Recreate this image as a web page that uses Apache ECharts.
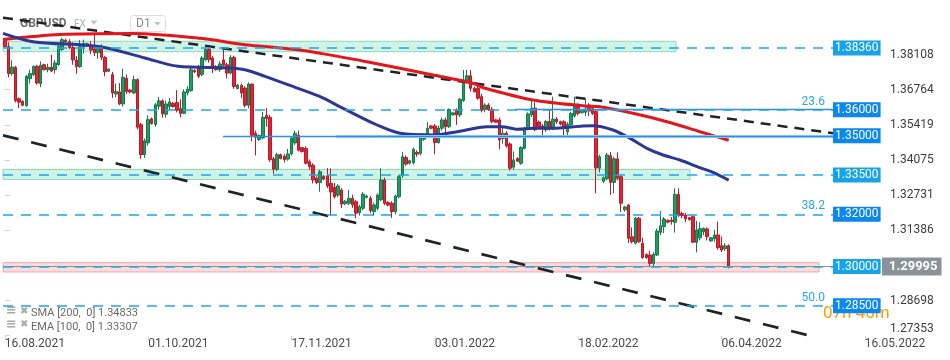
<!DOCTYPE html>
<html><head><meta charset="utf-8">
<script src="https://cdn.jsdelivr.net/npm/echarts@6/dist/echarts.min.js"></script>
<style>html,body{margin:0;padding:0;background:#fff}#c{width:950px;height:360px}</style>
</head><body><div id="c"></div>
<script>
// ---------- DATA ----------
const opens = [
1.3866,1.3842,1.3738,1.3762,1.3642,1.3632,1.3615,1.3719,1.3734,1.3766,
1.3700,1.3772,1.3753,1.3762,1.3753,1.3772,1.3830,1.3866,1.3860,1.3838,
1.3790,1.3765,1.3841,1.3852,1.3845,1.3840,1.3818,1.3836,1.3800,1.3747,
1.3734,1.3660,1.3668,1.3622,1.3720,1.3675,1.3664,1.3715,1.3543,1.3428,
1.3473,1.3565,1.3543,1.3613,1.3634,1.3583,1.3612,1.3625,1.3628,1.3604,
1.3586,1.3664,1.3673,1.3750,1.3762,1.3734,1.3791,1.3830,1.3798,1.3766,
1.3753,1.3790,1.3772,1.3740,1.3800,1.3681,1.3693,1.3683,1.3617,1.3698,
1.3510,1.3485,1.3492,1.3578,1.3571,1.3412,1.3372,1.3428,1.3422,1.3411,
1.3431,1.3473,1.3502,1.3455,1.3452,1.3401,1.3388,1.3338,1.3321,1.3345,
1.3347,1.3318,1.3303,1.3273,1.3293,1.3240,1.3242,1.3261,1.3248,1.3206,
1.3223,1.3265,1.3261,1.3210,1.3223,1.3255,1.3331,1.3245,1.3242,1.3210,
1.3267,1.3347,1.3417,1.3395,1.3397,1.3437,1.3433,1.3487,1.3500,1.3538,
1.3538,1.3474,1.3529,1.3561,1.3535,1.3580,1.3597,1.3580,1.3635,1.3712,
1.3730,1.3682,1.3682,1.3650,1.3600,1.3618,1.3602,1.3561,1.3561,1.3490,
1.3510,1.3469,1.3380,1.3413,1.3395,1.3452,1.3529,1.3580,1.3606,1.3553,
1.3538,1.3523,1.3555,1.3529,1.3564,1.3554,1.3554,1.3515,1.3542,1.3576,
1.3618,1.3589,1.3590,1.3618,1.3605,1.3594,1.3376,1.3326,1.3337,1.3424,
1.3322,1.3412,1.3344,1.3217,1.3235,1.3114,1.3089,1.3185,1.3089,1.3046,
1.3044,1.3012,1.3044,1.3131,1.3153,1.3176,1.3178,1.3169,1.3276,1.3203,
1.3197,1.3187,1.3191,1.3093,1.3110,1.3133,1.3144,1.3098,1.3106,1.3121,
1.3080,1.3068,1.3080];
const highs = [
1.3872,1.3858,1.3789,1.3768,1.3647,1.3636,1.3733,1.3753,1.3770,1.3772,
1.3785,1.3776,1.3776,1.3811,1.3791,1.3848,1.3874,1.3872,1.3870,1.3858,
1.3805,1.3867,1.3868,1.3856,1.3862,1.3892,1.3845,1.3850,1.3806,1.3758,
1.3745,1.3700,1.3702,1.3757,1.3735,1.3680,1.3730,1.3720,1.3550,1.3490,
1.3579,1.3570,1.3625,1.3649,1.3640,1.3635,1.3645,1.3630,1.3675,1.3640,
1.3678,1.3690,1.3760,1.3755,1.3771,1.3805,1.3836,1.3838,1.3806,1.3770,
1.3785,1.3830,1.3780,1.3809,1.3806,1.3698,1.3700,1.3690,1.3705,1.3700,
1.3520,1.3505,1.3591,1.3607,1.3580,1.3420,1.3435,1.3432,1.3430,1.3450,
1.3497,1.3520,1.3520,1.3458,1.3460,1.3410,1.3395,1.3345,1.3370,1.3350,
1.3377,1.3376,1.3320,1.3315,1.3300,1.3255,1.3293,1.3275,1.3255,1.3235,
1.3285,1.3275,1.3270,1.3245,1.3280,1.3376,1.3340,1.3250,1.3250,1.3275,
1.3350,1.3439,1.3425,1.3408,1.3455,1.3445,1.3500,1.3510,1.3553,1.3542,
1.3545,1.3540,1.3570,1.3570,1.3605,1.3592,1.3605,1.3645,1.3752,1.3752,
1.3752,1.3688,1.3690,1.3660,1.3625,1.3625,1.3610,1.3565,1.3570,1.3537,
1.3518,1.3475,1.3440,1.3418,1.3460,1.3535,1.3590,1.3634,1.3628,1.3558,
1.3545,1.3560,1.3599,1.3650,1.3572,1.3558,1.3560,1.3552,1.3592,1.3650,
1.3625,1.3600,1.3642,1.3625,1.3612,1.3600,1.3428,1.3345,1.3435,1.3438,
1.3420,1.3437,1.3350,1.3232,1.3240,1.3150,1.3190,1.3190,1.3110,1.3050,
1.3060,1.3055,1.3145,1.3212,1.3190,1.3180,1.3190,1.3299,1.3299,1.3210,
1.3205,1.3190,1.3195,1.3175,1.3170,1.3150,1.3150,1.3112,1.3140,1.3172,
1.3115,1.3090,1.3085];
const lows = [
1.3836,1.3724,1.3731,1.3628,1.3607,1.3613,1.3612,1.3700,1.3728,1.3696,
1.3686,1.3750,1.3743,1.3744,1.3738,1.3768,1.3825,1.3856,1.3832,1.3772,
1.3737,1.3760,1.3815,1.3840,1.3812,1.3805,1.3795,1.3790,1.3728,1.3744,
1.3645,1.3648,1.3617,1.3612,1.3660,1.3662,1.3660,1.3525,1.3412,1.3415,
1.3462,1.3543,1.3535,1.3600,1.3570,1.3570,1.3600,1.3608,1.3590,1.3570,
1.3583,1.3655,1.3668,1.3740,1.3721,1.3728,1.3785,1.3780,1.3740,1.3750,
1.3745,1.3765,1.3720,1.3735,1.3680,1.3678,1.3645,1.3608,1.3605,1.3479,
1.3425,1.3482,1.3488,1.3535,1.3400,1.3355,1.3365,1.3410,1.3398,1.3405,
1.3425,1.3465,1.3440,1.3436,1.3390,1.3370,1.3318,1.3315,1.3286,1.3330,
1.3300,1.3196,1.3260,1.3265,1.3224,1.3235,1.3235,1.3225,1.3185,1.3195,
1.3215,1.3260,1.3205,1.3195,1.3215,1.3250,1.3235,1.3230,1.3186,1.3200,
1.3260,1.3340,1.3385,1.3390,1.3390,1.3420,1.3425,1.3480,1.3495,1.3525,
1.3430,1.3470,1.3520,1.3507,1.3530,1.3578,1.3542,1.3572,1.3630,1.3700,
1.3670,1.3665,1.3638,1.3590,1.3590,1.3595,1.3548,1.3550,1.3449,1.3470,
1.3455,1.3367,1.3370,1.3400,1.3389,1.3448,1.3522,1.3572,1.3518,1.3530,
1.3497,1.3515,1.3520,1.3522,1.3545,1.3540,1.3500,1.3497,1.3535,1.3570,
1.3578,1.3585,1.3575,1.3575,1.3580,1.3280,1.3360,1.3320,1.3330,1.3274,
1.3280,1.3330,1.3209,1.3210,1.3090,1.3088,1.3085,1.3090,1.3030,1.3030,
1.2998,1.3000,1.3040,1.3120,1.3128,1.3165,1.3160,1.3130,1.3190,1.3185,
1.3170,1.3175,1.3090,1.3054,1.3100,1.3120,1.3100,1.3095,1.3095,1.3065,
1.3055,1.3060,1.2993];
const closes = [
1.3842,1.3738,1.3763,1.3635,1.3629,1.3617,1.3728,1.3738,1.3766,1.3702,
1.3770,1.3753,1.3762,1.3748,1.3779,1.3843,1.3868,1.3860,1.3838,1.3790,
1.3765,1.3841,1.3852,1.3845,1.3828,1.3818,1.3836,1.3800,1.3745,1.3756,
1.3664,1.3670,1.3622,1.3724,1.3670,1.3668,1.3715,1.3533,1.3428,1.3481,
1.3562,1.3547,1.3619,1.3634,1.3584,1.3622,1.3630,1.3612,1.3598,1.3586,
1.3668,1.3679,1.3753,1.3745,1.3728,1.3798,1.3830,1.3791,1.3762,1.3753,
1.3775,1.3770,1.3740,1.3800,1.3689,1.3694,1.3664,1.3617,1.3698,1.3502,
1.3495,1.3502,1.3571,1.3566,1.3409,1.3372,1.3428,1.3413,1.3409,1.3431,
1.3492,1.3510,1.3445,1.3440,1.3395,1.3382,1.3331,1.3321,1.3363,1.3335,
1.3308,1.3285,1.3267,1.3308,1.3239,1.3250,1.3261,1.3236,1.3204,1.3229,
1.3277,1.3270,1.3214,1.3236,1.3274,1.3331,1.3242,1.3235,1.3210,1.3270,
1.3344,1.3420,1.3392,1.3405,1.3449,1.3430,1.3493,1.3500,1.3529,1.3529,
1.3474,1.3530,1.3561,1.3535,1.3601,1.3588,1.3580,1.3640,1.3714,1.3730,
1.3682,1.3669,1.3644,1.3597,1.3618,1.3600,1.3555,1.3552,1.3484,1.3510,
1.3461,1.3376,1.3408,1.3403,1.3456,1.3529,1.3584,1.3606,1.3523,1.3535,
1.3529,1.3555,1.3529,1.3564,1.3554,1.3545,1.3530,1.3545,1.3586,1.3618,
1.3586,1.3597,1.3602,1.3595,1.3585,1.3377,1.3420,1.3340,1.3427,1.3322,
1.3412,1.3338,1.3242,1.3228,1.3108,1.3095,1.3185,1.3095,1.3034,1.3034,
1.3012,1.3047,1.3136,1.3156,1.3182,1.3170,1.3172,1.3276,1.3195,1.3195,
1.3182,1.3180,1.3093,1.3140,1.3145,1.3146,1.3114,1.3110,1.3121,1.3072,
1.3063,1.3079,1.29995];

// moving averages (vertices: bar position, value)
const smaBars   = [-0.5,15.4,35.8,54.5,67.0,73.2,82.4,88.0,101.0,119.5,130.6,134.0,147.4,161.9,166.1,175.3,184.8,194.0,202];
const smaValues = [1.38686,1.38877,1.38915,1.38732,1.38487,1.38410,1.38284,1.38158,1.37837,1.37328,1.37010,1.36819,1.36371,1.36142,1.36115,1.35863,1.35541,1.35159,1.34833];
const emaBars   = [-0.5,7.9,26.6,39.1,48.3,62.3,67.0,72.6,81.0,88.0,94.4,103.9,110.3,119.5,126.2,134.6,138.7,143.2,147.4,152.7,161.3,164.1,169.7,174.5,179.2,183.7,188.4,193.2,197.6,202];
const emaValues = [1.38923,1.38602,1.38410,1.37978,1.37661,1.37596,1.37531,1.37278,1.36857,1.36498,1.36054,1.35415,1.35098,1.35033,1.35159,1.35350,1.35350,1.35251,1.35289,1.35289,1.35377,1.35388,1.35224,1.34906,1.34524,1.34267,1.34076,1.33820,1.33606,1.33307];

// trend lines [bar, price]
const upperTrend = [[-0.5,1.3952],[231.1,1.3510]];
const lowerTrend = [[-0.5,1.3502],[224.7,1.27355]];

// horizontal levels
const levelValues = [1.3836,1.36,1.35,1.335,1.32,1.30,1.285];
const fibValues = [1.36,1.32,1.285];
const fibTexts = ['23.6','38.2','50.0'];
const lastPrice = 1.29995;

// zones
const zoneTop = [1.38617,1.33713,1.30147];
const zoneBottom = [1.38219,1.33330,1.29792];
const zoneEndBar = [187.3,191.2,227.2];

// axis tick labels
const xTickLabels = ['16.08.2021','01.10.2021','17.11.2021','03.01.2022','18.02.2022','06.04.2022','16.05.2022'];
const yTickLabels = [1.38108,1.36764,1.35419,1.34075,1.32731,1.31386,1.28698,1.27353];

// ---------- CATEGORIES (trading days incl. Sunday sessions, then calendar days) ----------
const SLOTS = 245;
function fmt(d){const p=n=>String(n).padStart(2,'0');return p(d.getUTCDate())+'.'+p(d.getUTCMonth()+1)+'.'+d.getUTCFullYear();}
const categories = [];
let t = Date.UTC(2021,7,16);
while (categories.length < opens.length) { const d = new Date(t); if (d.getUTCDay() !== 6) categories.push(fmt(d)); t += 864e5; }
while (categories.length < SLOTS) { categories.push(fmt(new Date(t))); t += 864e5; }

// ---------- BUILD ----------
const FONT = 'Roboto';
const LEVEL_END = 231.1;
const LIGHT = '#17a3e8', DARK = '#0b87ee';
const lightLevels = [1.3836,1.335,1.30];

const levelLines = [];
levelLines.push({yAxis:lastPrice, lineStyle:{color:'#8d8d8d',width:1,type:'solid'},
  label:{show:true,position:'end',distance:1,formatter:lastPrice.toFixed(5),backgroundColor:'#8a9399',color:'#fff',
  fontWeight:'bold',fontSize:13,fontFamily:FONT,padding:[3,4,2,7]}});
levelLines.push([{coord:[92.3,1.35],lineStyle:{color:'#a3d3f7',width:3,type:'solid'},label:{show:false}},{coord:[LEVEL_END,1.35]}]);
levelLines.push([{coord:[142.4,1.36],lineStyle:{color:'#2d8ee6',width:1.3,type:'solid'},label:{show:false}},{coord:[LEVEL_END,1.36]}]);
levelValues.forEach(v=>{
  const solid = v===1.35;
  levelLines.push([{coord:[solid?60.9:-0.5, v],
    lineStyle: solid?{color:'#2d8ee6',width:1.3,type:'solid'}:{color:'#1ea6ec',width:1.5,type:[10,8]},
    label:{show:true,position:'end',distance:0,formatter:v.toFixed(5),backgroundColor:lightLevels.includes(v)?LIGHT:DARK,
      color:'#fff',fontSize:12,fontFamily:FONT,padding:[2,2,1,2]}},
    {coord:[LEVEL_END,v]}]);
});
fibValues.forEach((v,i)=>{
  levelLines.push([{coord:[200,v],lineStyle:{color:'rgba(0,0,0,0)',width:0},
    label:{show:true,position:'insideEndTop',distance:[8,2],formatter:fibTexts[i],color:'#2aa7e8',fontSize:12,fontFamily:FONT}},
    {coord:[LEVEL_END,v]}]);
});

const zoneStyles = [
  {color:'rgba(102,214,170,0.30)',borderColor:'#86dcbc',borderWidth:1},
  {color:'rgba(102,214,170,0.30)',borderColor:'#86dcbc',borderWidth:1},
  {color:'rgba(245,120,120,0.25)',borderColor:'#f2a3a3',borderWidth:1}
];
const zoneData = zoneTop.map((top,i)=>[{coord:[-0.5,top],itemStyle:zoneStyles[i]},{coord:[zoneEndBar[i],zoneBottom[i]]}]);

const candleData = opens.map((o,i)=>[o,closes[i],lows[i],highs[i]]);
const smaData = smaBars.map((b,i)=>[b,smaValues[i]]);
const emaData = emaBars.map((b,i)=>[b,emaValues[i]]);

const chart = echarts.init(document.getElementById('c'), null, {renderer:'canvas'});
chart.setOption({
  animation:false,
  backgroundColor:'#fff',
  textStyle:{fontFamily:FONT},
  grid:{left:3,right:69,top:0,bottom:24,outerBoundsMode:'none'},
  xAxis:[
    {type:'category',data:categories,boundaryGap:true,
     axisLine:{show:false},
     axisTick:{show:true,alignWithLabel:true,length:4,interval:(i,v)=>xTickLabels.includes(v),lineStyle:{color:'#d6d6d6'}},
     axisLabel:{interval:(i,v)=>xTickLabels.includes(v),align:'left',margin:2,color:'#4a4a4a',fontSize:12,fontFamily:FONT},
     splitLine:{show:false}},
    {type:'value',min:-0.5,max:SLOTS-0.5,show:false}
  ],
  yAxis:{type:'value',position:'right',min:1.27343,max:1.40197,scale:true,
    axisLine:{show:false},splitLine:{show:false},
    axisTick:{show:true,customValues:yTickLabels,length:5,lineStyle:{color:'#d0d0d0'}},
    axisLabel:{customValues:yTickLabels,margin:9,color:'#3c3c3c',fontSize:12,fontFamily:FONT,
      formatter:v=>Math.abs(v-1.27353)<1e-6?'{lo|'+v.toFixed(5)+'}':v.toFixed(5),
      rich:{lo:{padding:[0,0,13,0],fontSize:12,color:'#3c3c3c',fontFamily:FONT}}}},
  series:[
    {name:'levels',type:'line',xAxisIndex:1,data:[],z:1,clip:false,silent:true,
     markLine:{symbol:['none','none'],silent:true,animation:false,data:levelLines}},
    {name:'GBPUSD',type:'candlestick',xAxisIndex:0,yAxisIndex:0,data:candleData,barWidth:3,z:2,
     itemStyle:{color:'#1e9c62',color0:'#e42433',borderColor:'#167a4c',borderColor0:'#b51c29',borderWidth:1}},
    {name:'upper',type:'line',xAxisIndex:1,data:upperTrend,symbol:'none',z:3,silent:true,
     lineStyle:{color:'#1f2428',width:2.5,type:[10,7]}},
    {name:'lower',type:'line',xAxisIndex:1,data:lowerTrend,symbol:'none',z:3,silent:true,
     lineStyle:{color:'#1f2428',width:2.7,type:[16,13]}},
    {name:'SMA 200',type:'line',xAxisIndex:1,data:smaData,symbol:'none',smooth:0.3,z:4,silent:true,
     lineStyle:{color:'#e3161c',width:3}},
    {name:'EMA 100',type:'line',xAxisIndex:1,data:emaData,symbol:'none',smooth:0.3,z:4,silent:true,
     lineStyle:{color:'#2c3894',width:3}},
    {name:'zones',type:'line',xAxisIndex:1,data:[],z:5,silent:true,
     markArea:{silent:true,data:zoneData}}
  ],
  graphic:[
    {type:'text',x:20,y:23.5,z:0,style:{text:'GBPUSD',font:'bold 12px Roboto',fill:'#6e6e6e',verticalAlign:'middle'}},
    {type:'text',x:74,y:24,z:0,style:{text:'FX',font:'10px Roboto',fill:'#b3b3b3',verticalAlign:'middle'}},
    {type:'polygon',z:0,shape:{points:[[90.5,20.5],[97.5,20.5],[94,24.5]]},style:{fill:'#c2c2c2'}},
    {type:'rect',z:0,shape:{x:130.5,y:15.5,width:35,height:16,r:3},style:{fill:'#fff',stroke:'#dedede',lineWidth:1}},
    {type:'text',x:136,y:24,z:0,style:{text:'D1',font:'12px Roboto',fill:'#8a8a8a',verticalAlign:'middle'}},
    {type:'polygon',z:0,shape:{points:[[154,22],[161,22],[157.5,25.5]]},style:{fill:'#c2c2c2'}},
    {type:'text',x:6,y:311,z:0,style:{text:'≡',font:'bold 13px DejaVu Sans',fill:'#a9a9a9',verticalAlign:'middle'}},
    {type:'text',x:20,y:311,z:0,style:{text:'✖',font:'10px DejaVu Sans',fill:'#a9a9a9',verticalAlign:'middle'}},
    {type:'text',x:31,y:313.5,z:0,style:{text:'SMA [200,  0] '+smaValues[smaValues.length-1].toFixed(5),font:'11px Roboto',fill:'#6a6a6a',verticalAlign:'middle'}},
    {type:'text',x:6,y:324.5,z:0,style:{text:'≡',font:'bold 13px DejaVu Sans',fill:'#a9a9a9',verticalAlign:'middle'}},
    {type:'text',x:20,y:324.5,z:0,style:{text:'✖',font:'10px DejaVu Sans',fill:'#a9a9a9',verticalAlign:'middle'}},
    {type:'text',x:31,y:327,z:0,style:{text:'EMA [100,  0] '+emaValues[emaValues.length-1].toFixed(5),font:'11px Roboto',fill:'#6a6a6a',verticalAlign:'middle'}},
    {type:'text',x:823,y:314,z:0,style:{text:'07h 46m',font:'17px Roboto',fill:'#ff9a00',verticalAlign:'middle'}}
  ]
});
</script></body></html>
